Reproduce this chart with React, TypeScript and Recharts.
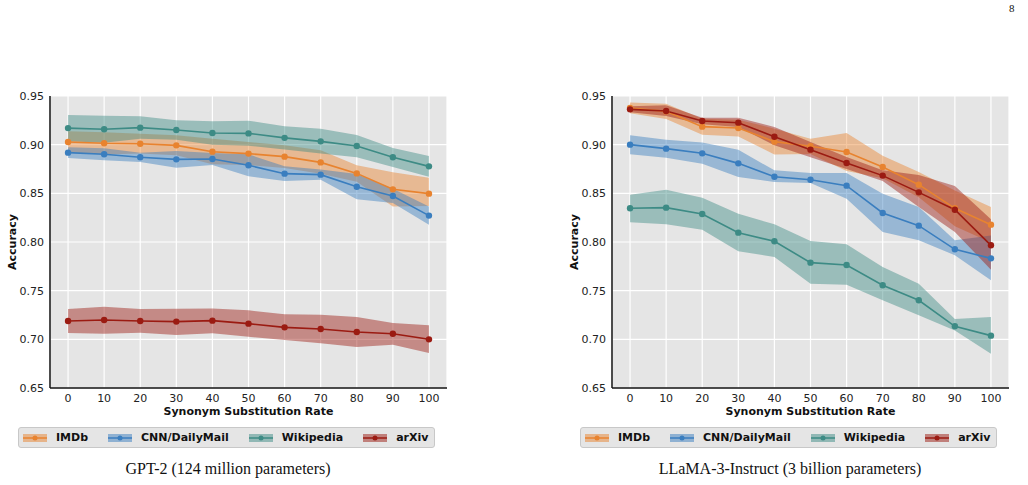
import { ComposedChart, Area, Line, XAxis, YAxis, CartesianGrid, Label } from "recharts"

const rates = [0, 10, 20, 30, 40, 50, 60, 70, 80, 90, 100]
const yTicks = [0.65, 0.7, 0.75, 0.8, 0.85, 0.9, 0.95]

// GPT-2 (124M)
const gptImdb = [0.9027, 0.9014, 0.901, 0.8993, 0.8928, 0.8908, 0.8877, 0.8818, 0.8705, 0.8541, 0.8497]
const gptImdbHi = [0.9137, 0.9127, 0.9113, 0.9096, 0.9062, 0.9027, 0.8993, 0.8942, 0.8788, 0.8716, 0.8661]
const gptImdbLo = [0.892, 0.89, 0.891, 0.889, 0.88, 0.879, 0.876, 0.87, 0.862, 0.8366, 0.837]
const gptCnn = [0.8918, 0.8901, 0.887, 0.8849, 0.8853, 0.8788, 0.8702, 0.8692, 0.8568, 0.8473, 0.8271]
const gptCnnHi = [0.8973, 0.8963, 0.8918, 0.8934, 0.8915, 0.8901, 0.8777, 0.8744, 0.8698, 0.8546, 0.8364]
const gptCnnLo = [0.8863, 0.8839, 0.8822, 0.8764, 0.8791, 0.8675, 0.8627, 0.864, 0.8438, 0.84, 0.8178]
const gptWiki = [0.917, 0.9158, 0.9175, 0.915, 0.912, 0.9116, 0.907, 0.9034, 0.8986, 0.887, 0.8777]
const gptWikiHi = [0.9305, 0.9298, 0.9291, 0.925, 0.924, 0.9247, 0.9188, 0.9164, 0.91, 0.8966, 0.8884]
const gptWikiLo = [0.9035, 0.902, 0.906, 0.905, 0.9, 0.899, 0.895, 0.891, 0.887, 0.877, 0.867]
const gptArxiv = [0.7188, 0.7199, 0.7188, 0.7182, 0.7192, 0.7161, 0.7123, 0.7106, 0.7075, 0.7058, 0.7]
const gptArxivHi = [0.7312, 0.7336, 0.7312, 0.7315, 0.7318, 0.7298, 0.7257, 0.7253, 0.7229, 0.7168, 0.7144]
const gptArxivLo = [0.7065, 0.7058, 0.7068, 0.7045, 0.7062, 0.7027, 0.6993, 0.6959, 0.6921, 0.6945, 0.686]

// LLaMA-3-Instruct (3B)
const llamaImdb = [0.9377, 0.9342, 0.9185, 0.9171, 0.9031, 0.8983, 0.8925, 0.8771, 0.8589, 0.8346, 0.8178]
const llamaImdbHi = [0.9432, 0.9421, 0.9267, 0.9257, 0.9164, 0.9062, 0.912, 0.8887, 0.8719, 0.853, 0.836]
const llamaImdbLo = [0.9322, 0.9263, 0.9103, 0.9085, 0.8898, 0.8904, 0.873, 0.8655, 0.8459, 0.8162, 0.7996]
const llamaCnn = [0.9, 0.8959, 0.8911, 0.8808, 0.8671, 0.864, 0.8579, 0.8298, 0.8168, 0.7925, 0.7832]
const llamaCnnHi = [0.9096, 0.9051, 0.9021, 0.8949, 0.8736, 0.871, 0.871, 0.8497, 0.836, 0.8017, 0.8068]
const llamaCnnLo = [0.8901, 0.8866, 0.8805, 0.8668, 0.8616, 0.8606, 0.8445, 0.8103, 0.8017, 0.7863, 0.7606]
const llamaWiki = [0.8346, 0.8353, 0.8288, 0.8096, 0.8007, 0.7788, 0.7764, 0.7555, 0.7401, 0.7134, 0.7038]
const llamaWikiHi = [0.8486, 0.8538, 0.8455, 0.8291, 0.8182, 0.801, 0.7976, 0.7743, 0.7572, 0.7209, 0.7229]
const llamaWikiLo = [0.8202, 0.8182, 0.8127, 0.7904, 0.7846, 0.7572, 0.7562, 0.7401, 0.7247, 0.7092, 0.6853]
const llamaArxiv = [0.9363, 0.9346, 0.9243, 0.9226, 0.9082, 0.8949, 0.8812, 0.8682, 0.851, 0.8332, 0.7966]
const llamaArxivHi = [0.9394, 0.9404, 0.9277, 0.9277, 0.9181, 0.9027, 0.8873, 0.8736, 0.8688, 0.8575, 0.8233]
const llamaArxivLo = [0.9332, 0.9295, 0.9209, 0.9181, 0.8993, 0.8871, 0.8751, 0.8628, 0.836, 0.8103, 0.7716]

const series = [
  { key: "imdb", name: "IMDb", color: "#e8832f" },
  { key: "cnn", name: "CNN/DailyMail", color: "#3a7ebf" },
  { key: "wiki", name: "Wikipedia", color: "#3d8b85" },
  { key: "arxiv", name: "arXiv", color: "#9b1b12" },
]

type Trio = [number[], number[], number[]]

function buildRows(sets: Record<string, Trio>) {
  return rates.map((x, i) => {
    const row: any = { x }
    for (const k of Object.keys(sets)) {
      const [mean, lo, hi] = sets[k]
      row[k] = mean[i]
      row[k + "Band"] = [lo[i], hi[i]]
    }
    return row
  })
}

const gptRows = buildRows({
  imdb: [gptImdb, gptImdbLo, gptImdbHi],
  cnn: [gptCnn, gptCnnLo, gptCnnHi],
  wiki: [gptWiki, gptWikiLo, gptWikiHi],
  arxiv: [gptArxiv, gptArxivLo, gptArxivHi],
})

const llamaRows = buildRows({
  imdb: [llamaImdb, llamaImdbLo, llamaImdbHi],
  cnn: [llamaCnn, llamaCnnLo, llamaCnnHi],
  wiki: [llamaWiki, llamaWikiLo, llamaWikiHi],
  arxiv: [llamaArxiv, llamaArxivLo, llamaArxivHi],
})

const sans = "'DejaVu Sans', sans-serif"
const tickStyle = { fontSize: 11, fill: "#222", fontFamily: sans }

function LegendBox() {
  return (
    <div
      style={{
        position: "absolute",
        left: 18,
        top: 347,
        width: 415,
        height: 19,
        background: "#e5e5e5",
        border: "1.5px solid #c8c8c8",
        borderRadius: 3,
        display: "flex",
        alignItems: "center",
        fontFamily: sans,
        fontWeight: "bold",
        fontSize: 11,
        color: "#111",
      }}
    >
      {series.map((s, i) => (
        <div key={s.key} style={{ display: "flex", alignItems: "center", marginLeft: i === 0 ? 4 : 20 }}>
          <svg width={24} height={12} style={{ marginRight: 9 }}>
            <rect x={0} y={2} width={24} height={8} fill={s.color} opacity={0.5} />
            <line x1={0} y1={6} x2={24} y2={6} stroke={s.color} strokeWidth={1.5} />
            <circle cx={12} cy={6} r={2.5} fill={s.color} />
          </svg>
          <span>{s.name}</span>
        </div>
      ))}
    </div>
  )
}

function Panel({ rows, left, caption }: { rows: any[]; left: number; caption: string }) {
  return (
    <div style={{ position: "absolute", left, top: 80, width: 460, height: 405 }}>
      <ComposedChart width={460} height={340} data={rows} margin={{ top: 16, right: 13, bottom: 0, left: 0 }}>
        <CartesianGrid fill="#e5e5e5" stroke="#ffffff" strokeWidth={1.2} />
        <XAxis
          dataKey="x"
          type="number"
          domain={[-5, 105]}
          ticks={rates}
          height={32}
          tick={tickStyle}
          tickLine={false}
          tickSize={4}
          tickMargin={2}
          axisLine={{ stroke: "#111", strokeWidth: 1.5 }}
        >
          <Label
            value="Synonym Substitution Rate"
            position="insideBottom"
            offset={5}
            style={{ fontSize: 11, fontWeight: "bold", fill: "#111", fontFamily: sans }}
          />
        </XAxis>
        <YAxis
          type="number"
          domain={[0.65, 0.95]}
          ticks={yTicks}
          width={50}
          tick={tickStyle}
          tickLine={false}
          tickSize={4}
          tickMargin={2}
          tickFormatter={(v: number) => v.toFixed(2)}
          axisLine={{ stroke: "#111", strokeWidth: 1.5 }}
          allowDataOverflow
        >
          <Label
            content={(props: any) => {
              const vb = props.viewBox || { y: 16, height: 292 }
              const cy = vb.y + vb.height / 2
              return (
                <text
                  x={12}
                  y={cy}
                  transform={`rotate(-90, 12, ${cy})`}
                  textAnchor="middle"
                  dominantBaseline="central"
                  style={{ fontSize: 11, fontWeight: "bold", fill: "#111", fontFamily: sans }}
                >
                  Accuracy
                </text>
              )
            }}
          />
        </YAxis>
        {series.flatMap((s) => [
          <Area
            key={s.key + "Band"}
            dataKey={s.key + "Band"}
            type="linear"
            stroke="none"
            fill={s.color}
            fillOpacity={0.45}
            isAnimationActive={false}
            activeDot={false}
          />,
          <Line
            key={s.key}
            dataKey={s.key}
            type="linear"
            stroke={s.color}
            strokeWidth={1.6}
            dot={{ r: 3.2, fill: s.color, stroke: s.color, strokeWidth: 0 }}
            activeDot={false}
            isAnimationActive={false}
          />,
        ])}
      </ComposedChart>
      <LegendBox />
      <div
        style={{
          position: "absolute",
          left: 0,
          width: 456,
          top: 380,
          textAlign: "center",
          fontFamily: "'Liberation Serif', 'Times New Roman', serif",
          fontSize: 16,
          color: "#111",
        }}
      >
        {caption}
      </div>
    </div>
  )
}

export default function App() {
  return (
    <div style={{ position: "absolute", left: 0, top: 0, width: 1028, height: 485, background: "#fff", overflow: "hidden" }}>
      <div
        style={{
          position: "absolute",
          left: 1009,
          top: 2,
          fontFamily: "'Liberation Serif', serif",
          fontSize: 11,
          color: "#111",
        }}
      >
        8
      </div>
      <Panel rows={gptRows} left={0} caption="GPT-2 (124 million parameters)" />
      <Panel rows={llamaRows} left={562} caption="LLaMA-3-Instruct (3 billion parameters)" />
    </div>
  )
}
